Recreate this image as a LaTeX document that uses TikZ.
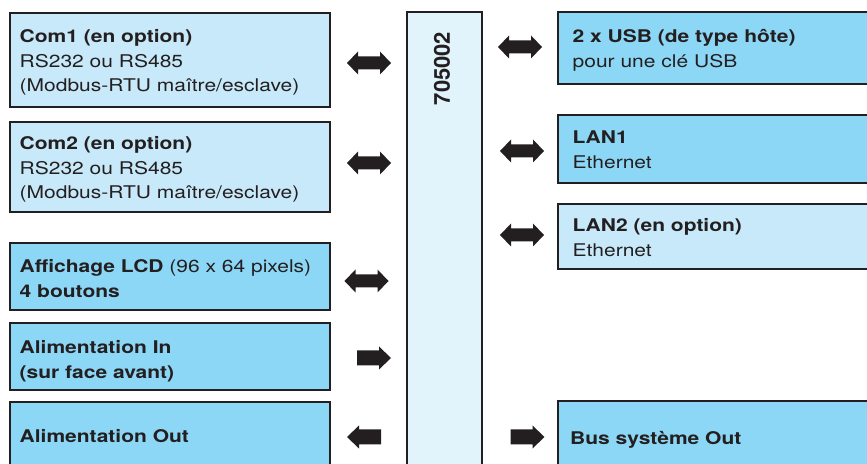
\documentclass[tikz,border=0pt]{standalone}
\usepackage{fontspec}
\setmainfont{TeX Gyre Heros}[FakeStretch=1.2]
\newfontfamily\numfont{TeX Gyre Heros}
\definecolor{lightb}{HTML}{C8E9F9}
\definecolor{darkb}{HTML}{8DD7F6}
\definecolor{centerb}{HTML}{E1F3FB}
\definecolor{edgec}{HTML}{231F20}
\begin{document}
\begin{tikzpicture}[x=1pt,y=1pt,
  box/.style={draw=edgec, line width=2pt, inner sep=0pt, rectangle},
  lightbox/.style={box, fill=lightb},
  darkbox/.style={box, fill=darkb},
  lbl/.style={anchor=base west, inner sep=0pt, align=left, text=edgec,
    font=\fontsize{17.5}{24.5}\selectfont},
  dblarrow/.pic={\fill[edgec] (-22,0) -- (-11,11.5) -- (-11,6.5) -- (11,6.5) -- (11,11.5) -- (22,0) -- (11,-11.5) -- (11,-6.5) -- (-11,-6.5) -- (-11,-11.5) -- cycle;},
  rarrow/.pic={\fill[edgec] (-17,7.5) -- (5,7.5) -- (5,11.5) -- (17,0) -- (5,-11.5) -- (5,-7.5) -- (-17,-7.5) -- cycle;}
]
\useasboundingbox (0,0) rectangle (867,463);
\clip (0,0) rectangle (867,463);

% left boxes
\node[lightbox, minimum width=320pt, minimum height=94pt] (com1) at (169.5,402.5) {};
\node[lightbox, minimum width=320pt, minimum height=90.5pt] (com2) at (169.5,295.75) {};
\node[darkbox, minimum width=320pt, minimum height=67pt] (lcd) at (169.5,186) {};
\node[darkbox, minimum width=320pt, minimum height=67pt] (alimin) at (169.5,106) {};
\node[darkbox, minimum width=320pt, minimum height=80.5pt] (alimout) at (169.5,20.25) {};

% centre box
\node[box, fill=centerb, minimum width=75pt, minimum height=470.5pt] (dev) at (444,215.25) {};
\node[rotate=90, inner sep=0pt, text=edgec, font=\numfont\bfseries\fontsize{22}{22}\selectfont] (devname) at (442,394.5) {705002};

% right boxes
\node[darkbox, minimum width=332pt, minimum height=71.5pt] (usb) at (724,414.75) {};
\node[darkbox, minimum width=332pt, minimum height=67.5pt] (lan1) at (724,313.75) {};
\node[lightbox, minimum width=332pt, minimum height=65pt] (lan2) at (724,226.5) {};
\node[darkbox, minimum width=332pt, minimum height=82pt] (bus) at (724,21) {};

% labels (anchor = baseline of the last line)
\node[lbl] (com1t) at (19.5,371.3) {\textbf{Com1 (en option)}\\RS232 ou RS485\\(Modbus-RTU maître/esclave)};
\node[lbl] (com2t) at (19.5,264) {\textbf{Com2 (en option)}\\RS232 ou RS485\\(Modbus-RTU maître/esclave)};
\node[lbl] (lcdt) at (19.5,165.5) {\textbf{Affichage LCD} (96 x 64 pixels)\\\textbf{4 boutons}};
\node[lbl] (alimint) at (19.5,84.5) {\textbf{Alimentation In}\\\textbf{(sur face avant)}};
\node[lbl] (alimoutt) at (19.5,20) {\textbf{Alimentation Out}};
\node[lbl] (usbt) at (572.5,395.5) {\textbf{2 x USB (de type hôte)}\\pour une clé USB};
\node[lbl] (lan1t) at (572.5,294.5) {\textbf{LAN1}\\Ethernet};
\node[lbl] (lan2t) at (572.5,206.5) {\textbf{LAN2 (en option)}\\Ethernet};
\node[lbl] (bust) at (570,19) {\textbf{Bus système Out}};

% arrows
\pic (a1) at (369,400) {dblarrow};
\pic (a2) at (369,300) {dblarrow};
\pic (a3) at (366.5,182) {dblarrow};
\pic (a4) at (374,105) {rarrow};
\pic[rotate=180] (a5) at (364,26) {rarrow};
\pic (a6) at (520,416) {dblarrow};
\pic (a7) at (522,312) {dblarrow};
\pic (a8) at (522,228) {dblarrow};
\pic (a9) at (527.5,26) {rarrow};
\end{tikzpicture}
\end{document}
